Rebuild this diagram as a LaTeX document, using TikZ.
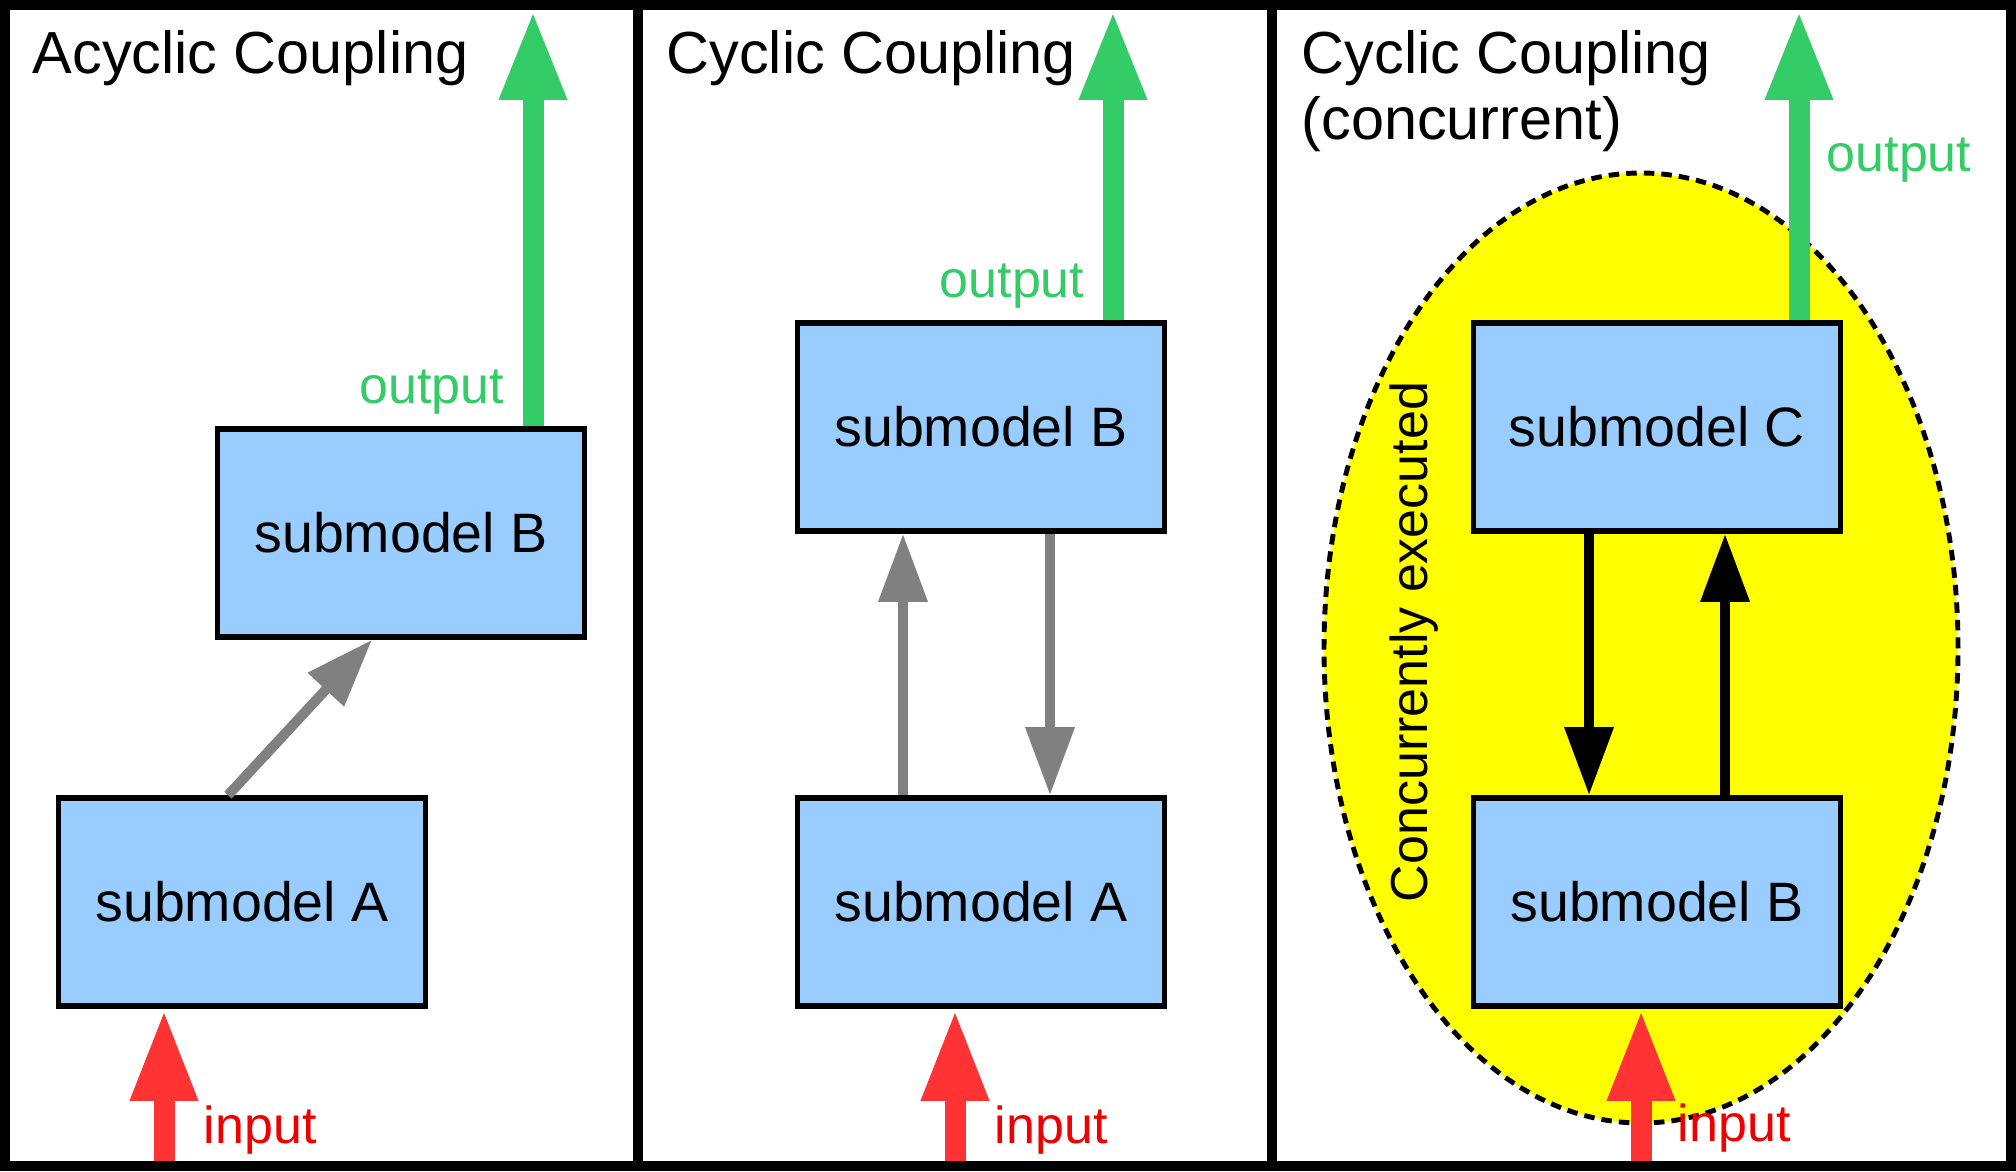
\documentclass[tikz,border=0pt]{standalone}
\usepackage{fontspec}
\setmainfont{Liberation Sans}
\usetikzlibrary{arrows.meta,positioning,shapes.geometric}

\definecolor{boxblue}{HTML}{99CCFF}
\definecolor{outgreen}{HTML}{33CC66}
\definecolor{inred}{HTML}{FF3333}
\definecolor{txtred}{HTML}{EE0000}
\definecolor{concyellow}{HTML}{FFFF00}

\begin{document}
\begin{tikzpicture}[
		submodel/.style = {draw, line width=1.6pt, fill=boxblue, minimum width=3.67cm, minimum height=2.08cm, font=\fontsize{15.8}{18}\selectfont},
		outarrow/.style = {outgreen, line width=2.1mm, -{Triangle[width=6.2mm,length=9mm]}},
		inarrow/.style = {inred, line width=2.1mm, -{Triangle[width=6.2mm,length=9.2mm]}},
		linkarrow/.style = {line width=1mm, -{Triangle[width=4.7mm,length=6.8mm]}},
		heading/.style = {anchor=north west, inner sep=0pt, align=left, font=\fontsize{16.9}{18.8}\selectfont},
		outlabel/.style = {text=outgreen, inner sep=0pt, font=\fontsize{14.8}{18}\selectfont},
		inlabel/.style = {text=txtred, inner sep=0pt, anchor=base west, font=\fontsize{14.8}{18}\selectfont}]
				\useasboundingbox (0,0) rectangle (20.16,11.71);

				% concurrent region
				\node[ellipse, draw, dashed, dash pattern=on 3pt off 2pt, line width=1.4pt, fill=concyellow,
					minimum width=6.34cm, minimum height=9.5cm] (conc) at (16.41,5.23) {};
				\node[rotate=90, anchor=base, inner sep=0pt, font=\fontsize{14.8}{18}\selectfont] (conctext) at (14.27,5.29) {Concurrently executed};

				% submodels
				\node[submodel] (subA1) at (2.42,2.69) {submodel A};
				\node[submodel] (subB1) at (4.01,6.38) {submodel B};
				\node[submodel] (subA2) at (9.81,2.69) {submodel A};
				\node[submodel] (subB2) at (9.81,7.44) {submodel B};
				\node[submodel] (subB3) at (16.57,2.69) {submodel B};
				\node[submodel] (subC3) at (16.57,7.44) {submodel C};

				% couplings
				\draw[linkarrow, gray] ([xshift=-1.4mm]subA1.north) -- ([xshift=-2.9mm]subB1.south);
				\draw[linkarrow, gray] ([xshift=-7.8mm]subA2.north) -- ([xshift=-7.8mm]subB2.south);
				\draw[linkarrow, gray] ([xshift=6.9mm]subB2.south) -- ([xshift=6.9mm]subA2.north);
				\draw[linkarrow] ([xshift=-6.8mm]subC3.south) -- ([xshift=-6.8mm]subB3.north);
				\draw[linkarrow] ([xshift=6.8mm]subB3.north) -- ([xshift=6.8mm]subC3.south);

				% inputs and outputs
				\coordinate (in1) at (1.64,0.1);
				\coordinate (in2) at (9.55,0.1);
				\coordinate (in3) at (16.41,0.1);
				\coordinate (top1) at (5.33,11.61);
				\coordinate (top2) at (11.13,11.61);
				\coordinate (top3) at (17.99,11.61);
				\draw[inarrow] (in1) -- (in1 |- subA1.south);
				\draw[inarrow] (in2) -- (in2 |- subA2.south);
				\draw[inarrow] (in3) -- (in3 |- subB3.south);
				\draw[outarrow] (top1 |- subB1.north) -- (top1);
				\draw[outarrow] (top2 |- subB2.north) -- (top2);
				\draw[outarrow] (top3 |- subC3.north) -- (top3);

				\node[outlabel, anchor=base east] (out1) at (5.05,7.68) {output};
				\node[outlabel, anchor=base east] (out2) at (10.85,8.74) {output};
				\node[outlabel, anchor=base west] (out3) at (18.26,9.99) {output};
				\node[inlabel] (inp1) at (2.03,0.28) {input};
				\node[inlabel] (inp2) at (9.94,0.28) {input};
				\node[inlabel] (inp3) at (16.77,0.30) {input};

				% headings
				\node[heading] (title1) at (0.32,11.41) {Acyclic Coupling};
				\node[heading] (title2) at (6.66,11.41) {Cyclic Coupling};
				\node[heading] (title3) at (13.01,11.41) {Cyclic Coupling\\(concurrent)};

				% frame
				\draw[line width=1mm] (0.05,0.05) rectangle (20.11,11.66);
				\draw[line width=1mm] (6.38,0.05) -- (6.38,11.66);
				\draw[line width=1mm] (12.72,0.05) -- (12.72,11.66);
			\end{tikzpicture}
\end{document}
